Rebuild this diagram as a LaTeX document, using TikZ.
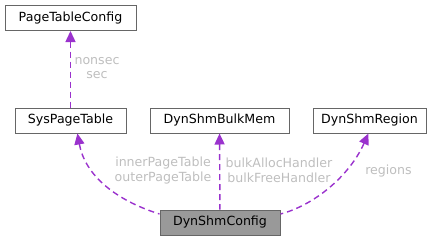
\documentclass[tikz,border=0pt]{standalone}
\usepackage{fontspec}
\setmainfont{DejaVu Sans}
\usepackage{xcolor}
\usepackage{tikz}
\usetikzlibrary{arrows.meta}
\definecolor{orchid}{HTML}{9A32CD}
\definecolor{boxbd}{HTML}{666666}
\definecolor{focusbg}{HTML}{999999}
\definecolor{lblgrey}{HTML}{BEBEBE}
\tikzset{
  classbox/.style={draw=boxbd,fill=white,line width=1pt,inner sep=2pt,
                   minimum height=25pt,font=\fontsize{12.6}{15}\selectfont},
  focusbox/.style={classbox,fill=focusbg},
  arrowrel/.style={{Triangle[length=11pt,width=10pt]}-,line width=1.4pt,orchid,
                   dash pattern=on 6pt off 4pt},
  rellabel/.style={text=lblgrey,align=center,inner sep=0pt,
                   font=\fontsize{12.6}{14.5}\selectfont},
}
\begin{document}
\begin{tikzpicture}[x=1pt,y=-1pt]
  \useasboundingbox (0,0) rectangle (441,241);
  \node[classbox,minimum width=131pt](ptc)at(70.5,18){PageTableConfig};
  \node[classbox,minimum width=111pt](spt)at(70.5,120.5){SysPageTable};
  \node[classbox,minimum width=139pt](bulk)at(219.5,120.5){DynShmBulkMem};
  \node[classbox,minimum width=113pt](reg)at(369.5,120.5){DynShmRegion};
  \node[focusbox,minimum width=120pt](cfg)at(220,222.5){DynShmConfig};
  \draw[arrowrel](ptc)--(spt);
  \draw[arrowrel](spt.-62) .. controls (85,175) and (115,200) .. (cfg.172);
  \draw[arrowrel](bulk)--(cfg);
  \draw[arrowrel](reg.-95) .. controls (350,175) and (315,205) .. (cfg.8);
  \node[rellabel](l1)at(97,68){nonsec\\sec};
  \node[rellabel](l2)at(163,170.5){innerPageTable\\outerPageTable};
  \node[rellabel](l3)at(279,170.5){bulkAllocHandler\\bulkFreeHandler};
  \node[rellabel](l4)at(388.5,171){regions};
\end{tikzpicture}
\end{document}
